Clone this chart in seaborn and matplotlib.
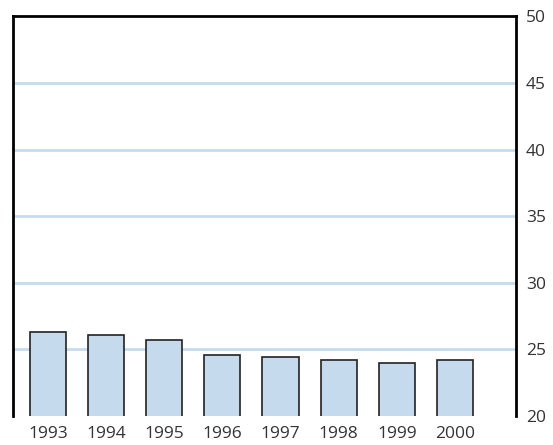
import matplotlib
matplotlib.use('Agg')
import matplotlib.pyplot as plt
import seaborn as sns
import pandas as pd

years = ['1993', '1994', '1995', '1996', '1997', '1998', '1999', '2000']
values = [26.3, 26.1, 25.7, 24.6, 24.4, 24.2, 24.0, 24.2]
y_ticks = [20, 25, 30, 35, 40, 45, 50]

sns.set_theme(style='white')
plt.rcParams['font.family'] = ['Open Sans', 'DejaVu Sans']

df = pd.DataFrame({'year': years, 'value': values})

fig = plt.figure(figsize=(5.53, 4.45), dpi=100)
ax = fig.add_axes([0.0235, 0.0652, 0.9096, 0.8978])

# light blue gridlines behind the bars
for t in y_ticks[1:-1]:
    ax.axhline(t, color='#c6dcee', lw=2, zorder=0)

sns.barplot(data=df, x='year', y='value', color='#c6daee', saturation=1,
            width=0.62, edgecolor='#222222', linewidth=1.2, ax=ax, zorder=2)

ax.set_ylim(20, 50)
ax.set_xlim(-0.6, 8.05)
ax.set_yticks(y_ticks)
ax.yaxis.tick_right()
ax.tick_params(axis='y', length=0, pad=7, labelsize=12.5, labelcolor='#333333')
ax.tick_params(axis='x', length=0, pad=7, labelsize=12.5, labelcolor='#333333')
ax.set_xlabel('')
ax.set_ylabel('')

for side in ['left', 'right', 'top']:
    ax.spines[side].set_visible(True)
    ax.spines[side].set_color('black')
    ax.spines[side].set_linewidth(2)
ax.spines['bottom'].set_visible(False)

fig.savefig('out.png', dpi=100)
